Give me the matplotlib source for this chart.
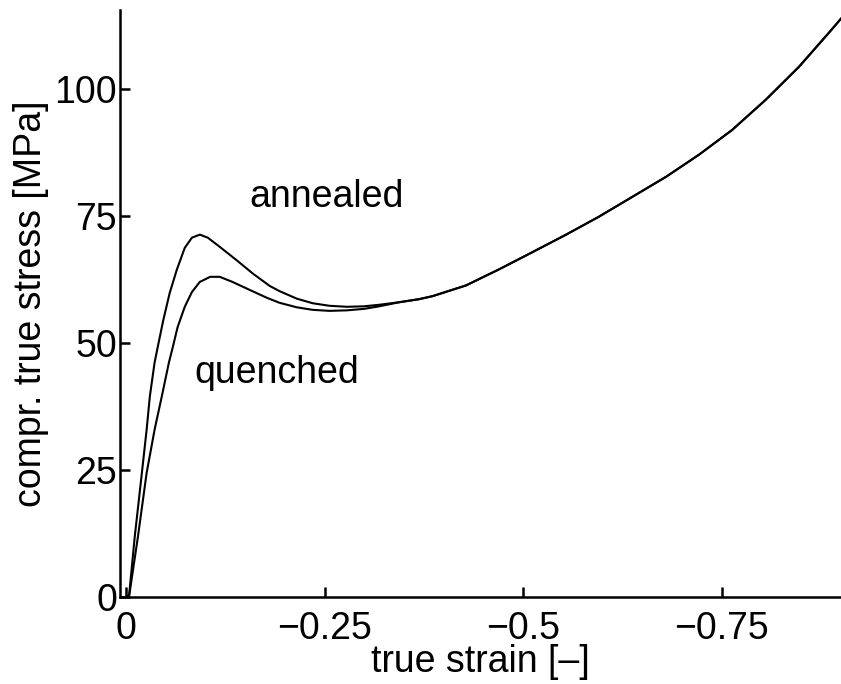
import numpy as np
import matplotlib.pyplot as plt

# values (strain is negative = compression)
annealed_strain = -np.array([0, 0.004, 0.011, 0.020, 0.026, 0.030, 0.036, 0.040, 0.047, 0.055,
                             0.064, 0.074, 0.083, 0.093, 0.103, 0.118, 0.139, 0.160, 0.181,
                             0.193, 0.215, 0.235, 0.256, 0.278, 0.300, 0.319, 0.344, 0.369,
                             0.386, 0.428, 0.470, 0.511, 0.554, 0.595, 0.637, 0.680, 0.721,
                             0.763, 0.805, 0.847, 0.888, 0.900])
annealed_stress = np.array([0, 0.4, 11.8, 24.4, 32.9, 39.4, 46.1, 49.2, 54.5, 59.8,
                            64.4, 68.7, 70.7, 71.3, 70.7, 68.9, 66.3, 63.6, 61.2,
                            60.2, 58.7, 57.8, 57.3, 57.1, 57.2, 57.5, 58.0, 58.6,
                            59.2, 61.3, 64.5, 67.8, 71.3, 74.8, 78.7, 82.7, 87.0,
                            91.9, 97.8, 104.3, 111.6, 113.8])

quenched_strain = -np.array([0, 0.004, 0.015, 0.026, 0.036, 0.045, 0.054, 0.059, 0.065, 0.074,
                             0.083, 0.093, 0.106, 0.118, 0.134, 0.156, 0.177, 0.193, 0.215,
                             0.235, 0.256, 0.278, 0.300, 0.319, 0.344, 0.369,
                             0.386, 0.428, 0.470, 0.511, 0.554, 0.595, 0.637, 0.680, 0.721,
                             0.763, 0.805, 0.847, 0.888, 0.900])
quenched_stress = np.array([0, 0.2, 11.8, 24.4, 32.9, 39.4, 46.1, 49.2, 53.1, 57.1,
                            60.0, 62.0, 63.0, 63.0, 62.0, 60.4, 58.9, 57.9, 57.0,
                            56.5, 56.3, 56.4, 56.7, 57.2, 58.0, 58.6,
                            59.2, 61.3, 64.5, 67.8, 71.3, 74.8, 78.7, 82.7, 87.0,
                            91.9, 97.8, 104.3, 111.6, 113.8])

xticks = [0, -0.25, -0.5, -0.75]
xticklabels = ['0', '\u22120.25', '\u22120.5', '\u22120.75']
yticks = [0, 25, 50, 75, 100]

plt.rcParams['font.family'] = ['Liberation Sans', 'DejaVu Sans']
fs = 27

fig = plt.figure(figsize=(8.41, 6.84), dpi=100)
ax = fig.add_axes([0.1427, 0.1272, 0.8573, 0.8582])

ax.plot(annealed_strain, annealed_stress, color='black', lw=1.5, solid_joinstyle='round')
ax.plot(quenched_strain, quenched_stress, color='black', lw=1.5, solid_joinstyle='round')

ax.text(-0.2525, 76.8, 'annealed', ha='center', va='baseline', fontsize=fs)
ax.text(-0.190, 42.1, 'quenched', ha='center', va='baseline', fontsize=fs)

ax.set_xlim(0.0075, -0.9)
ax.set_ylim(0, 115.5)
ax.set_xticks(xticks)
ax.set_xticklabels(xticklabels)
ax.set_yticks(yticks)

for side in ['top', 'right']:
    ax.spines[side].set_visible(False)
for side in ['left', 'bottom']:
    ax.spines[side].set_linewidth(1.8)

ax.tick_params(direction='in', length=7, width=1.8, labelsize=fs)
ax.tick_params(axis='x', pad=10)
ax.tick_params(axis='y', pad=2)

ax.set_xlabel('true strain [\u2013]', fontsize=fs, labelpad=-2)
ax.set_ylabel('compr. true stress [MPa]', fontsize=fs, labelpad=4)

fig.savefig('out.png', dpi=100)
